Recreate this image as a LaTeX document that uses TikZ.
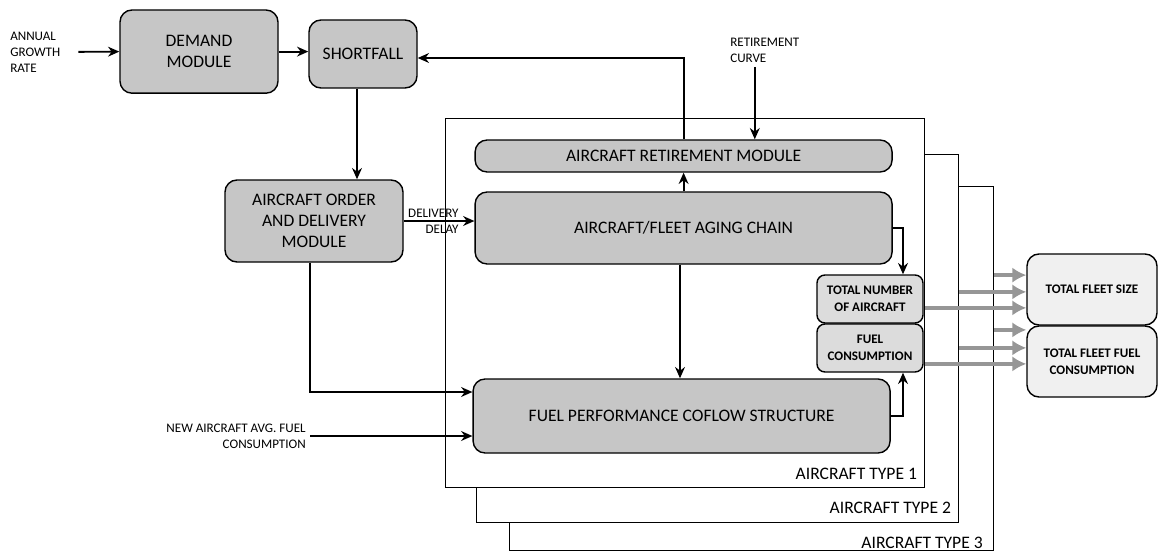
\documentclass[tikz,border=0pt]{standalone}
\usepackage{fontspec}
\setmainfont{Carlito}
\usepackage{xcolor}
\usepackage{tikz}
\usetikzlibrary{arrows.meta, positioning, calc}
\definecolor{modcolor}{RGB}{198,198,198}
\definecolor{outcolor}{RGB}{220,220,220}
\definecolor{fleetcolor}{RGB}{240,240,240}
\definecolor{fleetarrow}{RGB}{150,150,150}

\begin{document}
\begin{tikzpicture}[
    every node/.style={font=\fontsize{9.3}{11.4}\selectfont},
    module/.style={draw, line width=1pt, fill=modcolor, rounded corners=0.3cm,
        align=center, font=\fontsize{12.5}{15}\selectfont},
    outbox/.style={draw, line width=1pt, fill=outcolor, rounded corners=0.2cm,
        align=center, font=\fontsize{9.3}{11.8}\selectfont\bfseries,
        minimum width=2.65cm, minimum height=1.2cm},
    fleetbox/.style={draw, line width=1pt, fill=fleetcolor, rounded corners=0.3cm,
        align=center, font=\fontsize{9.3}{11.8}\selectfont\bfseries,
        minimum width=3.25cm, minimum height=1.775cm},
    typeframe/.style={draw, line width=0.9pt, fill=white, anchor=north west},
    typelabel/.style={anchor=base east, inner sep=0pt, font=\fontsize{12.5}{15}\selectfont},
    flow/.style={-{Stealth[length=8pt,width=7pt]}, line width=1.3pt},
    fleetflow/.style={-{Latex[length=10pt,width=11pt]}, line width=2.8pt, draw=fleetarrow},
]
    \useasboundingbox (0,0) rectangle (28.95,-13.8);

    % Aircraft type frames, back to front
    \node[typeframe, minimum width=12.1cm, minimum height=9.1cm] (type3) at (12.725,-4.65) {};
    \node[typeframe, minimum width=12.05cm, minimum height=9.2cm] (type2) at (11.9,-3.85) {};
    \node[typeframe, minimum width=11.975cm, minimum height=9.225cm] (type1) at (11.125,-2.95) {};
    \node[typelabel] at ([xshift=-0.28cm, yshift=0.08cm]type3.south east) {AIRCRAFT TYPE 3};
    \node[typelabel] at ([xshift=-0.2cm, yshift=0.25cm]type2.south east) {AIRCRAFT TYPE 2};
    \node[typelabel] at ([xshift=-0.2cm, yshift=0.23cm]type1.south east) {AIRCRAFT TYPE 1};

    % Demand side
    \node[module, minimum width=3.95cm, minimum height=2.08cm] (demand) at (4.975,-1.29) {DEMAND\\MODULE};
    \node[module, minimum width=2.7cm, minimum height=1.7cm] (shortfall) at (9.075,-1.35) {SHORTFALL};
    \node[module, minimum width=4.45cm, minimum height=2.05cm] (order) at (7.85,-5.525)
        {AIRCRAFT ORDER\\AND DELIVERY\\MODULE};
    \node[anchor=west, align=left, inner sep=0pt] (annual) at (0.25,-1.3) {ANNUAL\\GROWTH\\RATE};

    % Fleet modules
    \node[module, minimum width=10.425cm, minimum height=0.8cm] (retire) at (17.09,-3.9)
        {AIRCRAFT RETIREMENT MODULE};
    \node[module, minimum width=10.425cm, minimum height=1.8cm] (aging) at (17.09,-5.7)
        {AIRCRAFT/FLEET AGING CHAIN};
    \node[module, minimum width=10.425cm, minimum height=1.85cm] (fuelperf) at (17.04,-10.4)
        {FUEL PERFORMANCE COFLOW STRUCTURE};
    \node[anchor=west, align=left, inner sep=0pt] (curve) at (18.25,-1.26) {RETIREMENT\\CURVE};
    \node[anchor=east, align=right, inner sep=0pt] (newfuel) at (7.65,-10.9)
        {NEW AIRCRAFT AVG. FUEL\\CONSUMPTION};

    % Outputs
    \node[outbox] (totalnum) at (21.75,-7.475) {TOTAL NUMBER\\OF AIRCRAFT};
    \node[outbox] (fuelcons) at (21.75,-8.7) {FUEL\\CONSUMPTION};
    \node[fleetbox] (fleetsize) at (27.3,-7.2375) {TOTAL FLEET SIZE};
    \node[fleetbox] (fleetfuel) at (27.3,-9.0375) {TOTAL FLEET FUEL\\CONSUMPTION};

    % Connectors
    \draw[flow, shorten <=0.45cm] (annual.east) -- (demand.west);
    \draw[flow] (demand.east) -- (demand.east -| shortfall.west);
    \draw[flow] ([xshift=-0.15cm]shortfall.south) -- ([xshift=-0.15cm]shortfall.south |- order.north);
    \draw[flow] (order.east) -- node[align=right, pos=0.42] {DELIVERY\\DELAY} (order.east -| aging.west);
    \draw[flow] ([xshift=-0.1cm]order.south) |- ([yshift=0.6cm]fuelperf.west);
    \draw[flow] ([xshift=0.1cm]newfuel.east) -- (newfuel.east -| fuelperf.west);
    \draw[flow] (retire.north) |- ([yshift=-0.1cm]shortfall.east);
    \coordinate (curvetip) at ([xshift=-0.25cm, yshift=-0.1cm]curve.south);
    \draw[flow] (curvetip) -- (curvetip |- retire.north);
    \draw[flow] (aging.north) -- (retire.south);
    \draw[flow] ([xshift=-0.09cm]aging.south) -- ([xshift=-0.09cm]aging.south |- fuelperf.north);
    \draw[flow] (aging.east) -| ([xshift=0.825cm]totalnum.north);
    \draw[flow] (fuelperf.east) -| ([xshift=0.825cm]fuelcons.south);

    % Totals over all aircraft types
    \foreach \fr/\dy in {type3/0.36, type2/-0.06, type1/-0.46} {
        \coordinate (tip) at ([yshift=\dy cm]fleetsize.west);
        \draw[fleetflow] (\fr.east |- tip) -- (tip);
    }
    \foreach \fr/\dy in {type3/0.79, type2/0.34, type1/-0.06} {
        \coordinate (tip) at ([yshift=\dy cm]fleetfuel.west);
        \draw[fleetflow] (\fr.east |- tip) -- (tip);
    }
\end{tikzpicture}
\end{document}
